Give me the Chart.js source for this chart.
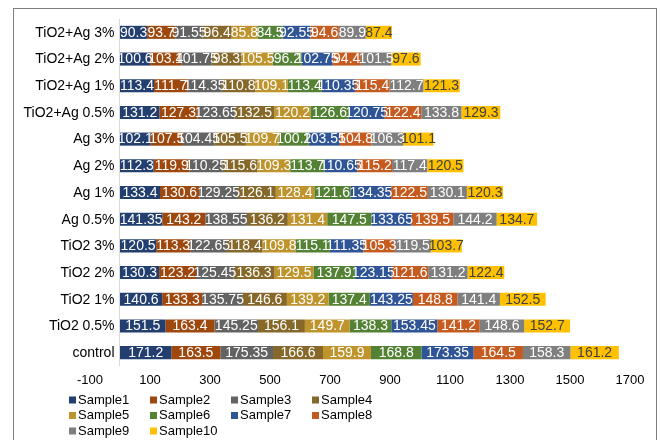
<!DOCTYPE html>
<html>
<head>
<meta charset="utf-8">
<script src="https://cdn.jsdelivr.net/npm/chart.js@4/dist/chart.umd.min.js"></script>
<style>
  html, body { margin: 0; padding: 0; background: #fff; }
  #wrap { width: 661px; height: 440px; position: relative; }
</style>
</head>
<body>
<div id="wrap"><canvas id="c" width="661" height="440"></canvas></div>
<script>
// Categories, listed top to bottom
const categories = ['TiO2+Ag 3%', 'TiO2+Ag 2%', 'TiO2+Ag 1%', 'TiO2+Ag 0.5%', 'Ag 3%', 'Ag 2%', 'Ag 1%', 'Ag 0.5%', 'TiO2 3%', 'TiO2 2%', 'TiO2 1%', 'TiO2 0.5%', 'control'];

const sample1  = [90.3, 100.6, 113.4, 131.2, 102.1, 112.3, 133.4, 141.35, 120.5, 130.3, 140.6, 151.5, 171.2];
const sample2  = [93.7, 103.4, 111.7, 127.3, 107.5, 119.9, 130.6, 143.2, 113.3, 123.2, 133.3, 163.4, 163.5];
const sample3  = [91.55, 101.75, 114.35, 123.65, 104.45, 110.25, 129.25, 138.55, 122.65, 125.45, 135.75, 145.25, 175.35];
const sample4  = [96.4, 98.3, 110.8, 132.5, 105.5, 115.6, 126.1, 136.2, 118.4, 136.3, 146.6, 156.1, 166.6];
const sample5  = [85.8, 105.5, 109.1, 120.2, 109.7, 109.3, 128.4, 131.4, 109.8, 129.5, 139.2, 149.7, 159.9];
const sample6  = [84.5, 96.2, 113.4, 126.6, 100.2, 113.7, 121.6, 147.5, 115.1, 137.9, 137.4, 138.3, 168.8];
const sample7  = [92.55, 102.75, 110.35, 120.75, 103.55, 110.65, 134.35, 133.65, 111.35, 123.15, 143.25, 153.45, 173.35];
const sample8  = [94.6, 94.4, 115.4, 122.4, 104.8, 115.2, 122.5, 139.5, 105.3, 121.6, 148.8, 141.2, 164.5];
const sample9  = [89.9, 101.5, 112.7, 133.8, 106.3, 117.4, 130.1, 144.2, 119.5, 131.2, 141.4, 148.6, 158.3];
const sample10 = [87.4, 97.6, 121.3, 129.3, 101.1, 120.5, 120.3, 134.7, 103.7, 122.4, 152.5, 152.7, 161.2];

const seriesNames = ['Sample1', 'Sample2', 'Sample3', 'Sample4', 'Sample5', 'Sample6', 'Sample7', 'Sample8', 'Sample9', 'Sample10'];
const seriesValues = [sample1, sample2, sample3, sample4, sample5, sample6, sample7, sample8, sample9, sample10];
const seriesColors = ['#223f70', '#9e480e', '#636363', '#86692a', '#bf942c', '#548235', '#2f5597', '#c65b20', '#7f7f7f', '#ffc000'];
const labelColors  = ['#fff', '#fff', '#fff', '#fff', '#fff', '#fff', '#fff', '#fff', '#fff', '#404040'];

const xTicks = [-100, 100, 300, 500, 700, 900, 1100, 1300, 1500, 1700];

const FONT = '"Liberation Sans", Arial, sans-serif';

// Outer frame of the chart
const framePlugin = {
  id: 'frame',
  beforeDraw(chart) {
    const ctx = chart.ctx;
    ctx.save();
    ctx.strokeStyle = '#7f7f7f';
    ctx.lineWidth = 1;
    ctx.strokeRect(13.5, 8.5, 643, 445);
    ctx.restore();
  }
};

// Vertical axis line at x = 0, with the category names just left of it
const categoryAxisPlugin = {
  id: 'categoryAxis',
  beforeDatasetsDraw(chart) {
    const xScale = chart.scales.x, yScale = chart.scales.y;
    const x = Math.round(xScale.getPixelForValue(0)) - 0.5;
    const { top, bottom } = chart.chartArea;
    const ctx = chart.ctx;
    ctx.save();
    ctx.strokeStyle = '#d9d9d9';
    ctx.lineWidth = 1;
    ctx.beginPath();
    ctx.moveTo(x, top);
    ctx.lineTo(x, bottom);
    ctx.stroke();

    ctx.font = '14px ' + FONT;
    ctx.fillStyle = '#000';
    ctx.textAlign = 'right';
    ctx.textBaseline = 'middle';
    chart.data.labels.forEach((lab, i) => {
      ctx.fillText(lab, x - 5, yScale.getPixelForValue(i) + 0.5);
    });
    ctx.restore();
  }
};

// Value labels centred on each segment
const valueLabelPlugin = {
  id: 'valueLabels',
  afterDatasetsDraw(chart) {
    const ctx = chart.ctx;
    ctx.save();
    ctx.font = '14px ' + FONT;
    ctx.textAlign = 'center';
    ctx.textBaseline = 'middle';
    chart.data.datasets.forEach((ds, i) => {
      const meta = chart.getDatasetMeta(i);
      ctx.fillStyle = labelColors[i];
      meta.data.forEach((bar, j) => {
        const cx = (bar.x + bar.base) / 2;
        ctx.fillText(String(ds.data[j]), cx, bar.y + 0.5);
      });
    });
    ctx.restore();
  }
};

// Legend laid out in rows of four below the axis
const legendPlugin = {
  id: 'gridLegend',
  afterDraw(chart) {
    const ctx = chart.ctx;
    ctx.save();
    ctx.font = '13px ' + FONT;
    ctx.textAlign = 'left';
    ctx.textBaseline = 'middle';
    chart.data.datasets.forEach((ds, i) => {
      const col = i % 4, row = Math.floor(i / 4);
      const x = 69 + col * 81;
      const y = 400 + row * 15.5;
      ctx.fillStyle = ds.backgroundColor;
      ctx.fillRect(x, y - 3.5, 7, 7);
      ctx.fillStyle = '#000';
      ctx.fillText(ds.label, x + 9, y);
    });
    ctx.restore();
  }
};

new Chart(document.getElementById('c'), {
  type: 'bar',
  data: {
    labels: categories,
    datasets: seriesNames.map((name, i) => ({
      label: name,
      data: seriesValues[i],
      backgroundColor: seriesColors[i],
      borderWidth: 0,
      barPercentage: 0.49,
      categoryPercentage: 1.0
    }))
  },
  options: {
    indexAxis: 'y',
    responsive: false,
    animation: false,
    devicePixelRatio: 1,
    layout: { padding: { left: 0, right: 31, top: 19, bottom: 50 } },
    plugins: {
      legend: { display: false },
      tooltip: { enabled: false }
    },
    scales: {
      x: {
        stacked: true,
        min: -100,
        max: 1700,
        grid: { display: false, drawTicks: false },
        border: { display: false },
        afterBuildTicks(scale) { scale.ticks = xTicks.map(v => ({ value: v })); },
        afterFit(scale) { scale.height = 24; },
        ticks: {
          autoSkip: false,
          maxRotation: 0,
          padding: 7,
          color: '#000',
          font: { family: FONT, size: 13 },
          callback: (v) => String(v)
        }
      },
      y: {
        stacked: true,
        grid: { display: false, drawTicks: false },
        border: { display: false },
        afterFit(scale) { scale.width = 90; },
        ticks: { display: false }
      }
    }
  },
  plugins: [framePlugin, categoryAxisPlugin, valueLabelPlugin, legendPlugin]
});
</script>
</body>
</html>
